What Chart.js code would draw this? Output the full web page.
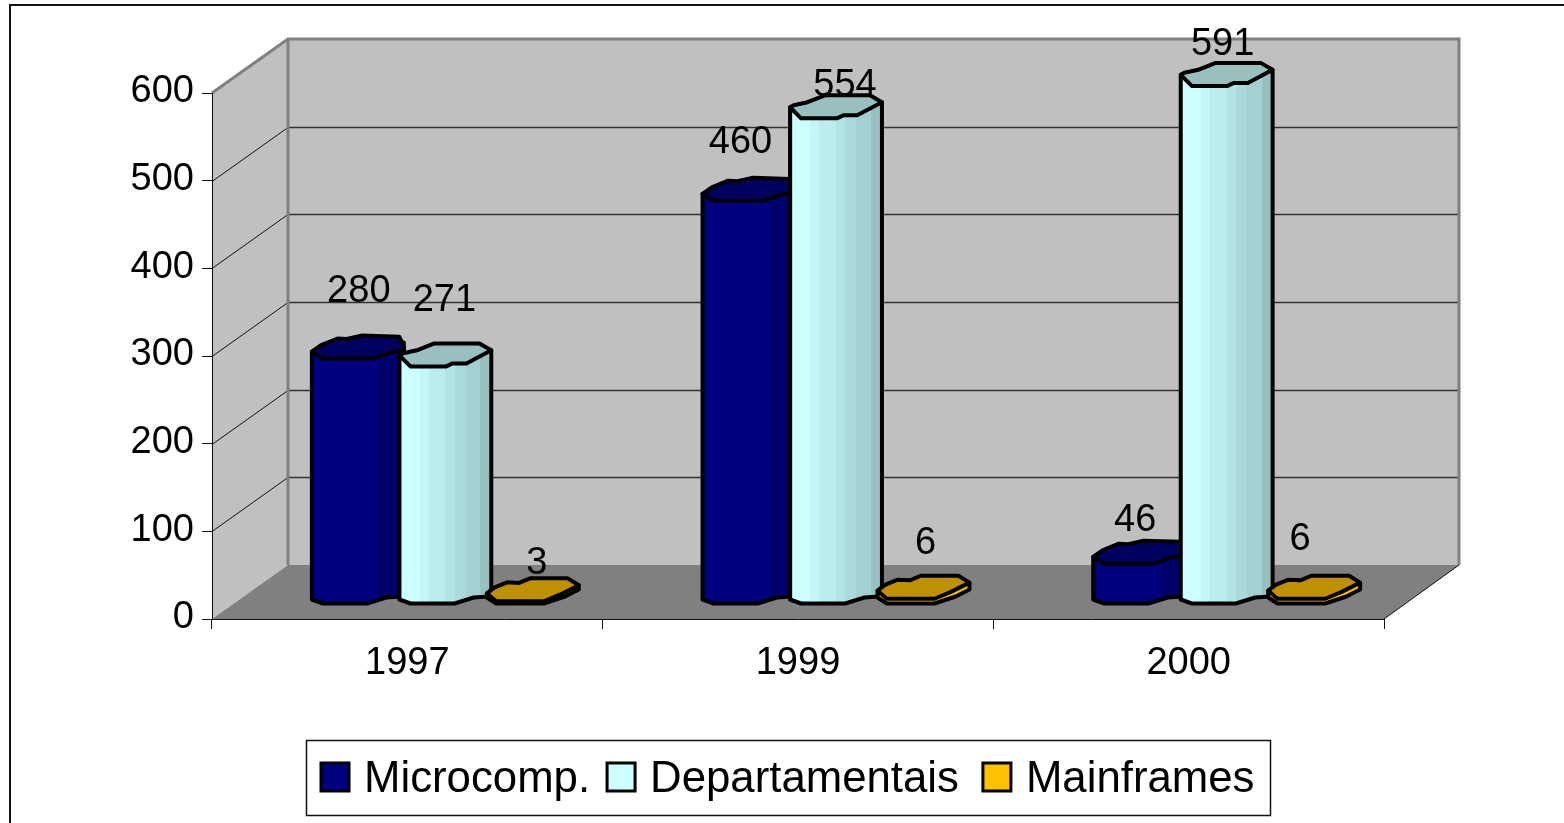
<!DOCTYPE html>
<html>
<head>
<meta charset="utf-8">
<title>Microcomp. / Departamentais / Mainframes</title>
<script src="https://cdn.jsdelivr.net/npm/chart.js@4/dist/chart.umd.min.js"></script>
<style>
  html, body { margin: 0; padding: 0; background: #fff; overflow: hidden; }
  canvas { display: block; }
</style>
</head>
<body>
<canvas id="chart" width="1564" height="823"></canvas>
<script>
const years = ['1997', '1999', '2000'];
const microcomp = [280, 460, 46];
const departamentais = [271, 554, 591];
const mainframes = [3, 6, 6];
const yTicks = [0, 100, 200, 300, 400, 500, 600];

// 3D look of the old spreadsheet chart: wall depth and how far bars sit into it
const DEPTH_X = 76, DEPTH_Y = 54;
const BAR_SHIFT_X = 38, BAR_SHIFT_Y = 15;
const CAP_HEIGHT = 23;
const FONT = '"Liberation Sans", Arial, sans-serif';

// cap: outline as [u across the bar, v down the cap]. foot: [u, pixels above the base]
const seriesLook = [
  {
    cap: '#000060', legend: '#000080',
    capShape: [[0, .7], [.12, 1], [.66, 1], [.85, .74], [1, .65], [1, .45], [.95, .05], [.55, 0], [.38, .15], [.28, .13], [.1, .42]],
    foot: [[0, 4], [.12, 0], [.6, 0], [.81, 6], [.97, 7], [1, 10]],
    stripes: [[.04, '#00007a'], [.72, '#000080'], [1, '#00006c']]
  },
  {
    cap: '#99bfbf', legend: '#ccffff',
    capShape: [[0, .52], [.12, 1], [.51, 1], [.58, .87], [.73, .87], [1, .3], [.87, 0], [.38, 0], [.19, .3], [.04, .43]],
    foot: [[0, 4], [.12, 0], [.6, 0], [.81, 6], [.97, 7], [1, 10]],
    stripes: [[.03, '#b5e5e5'], [.22, '#ccffff'], [.32, '#c4f6f6'], [.5, '#bbeded'], [.6, '#b3e4e4'], [.72, '#aad9d9'], [.88, '#a3d0d0'], [1, '#99c0c0']]
  },
  {
    cap: '#bf9000', legend: '#ffc000',
    capShape: [[0, .65], [.1, 1], [.62, 1], [.8, .7], [1, .3], [.88, 0], [.47, 0], [.35, .2], [.22, .17], [.08, .4]],
    foot: [[0, 6], [.1, 0], [.62, 0], [.85, 7], [1, 14]],
    stripes: [[1, '#ffc000']]
  }
];

// label placement relative to the front of the cap [dx, dy], per series then per year
const labelNudge = [
  [[1, -67], [-8, -58], [-4, -43]],
  [[-1, -66], [9, -33], [-4, -41]],
  [[4, -38], [2, -55], [-14, -59]]
];
const legendGaps = [17, 24, 0];

const roomPlugin = {
  id: 'room',
  beforeDraw(chart) {
    const { ctx, chartArea: a, scales } = chart;
    ctx.save();
    ctx.fillStyle = '#fff';
    ctx.fillRect(0, 0, chart.width, chart.height);

    // page frame, open to the right and below
    ctx.strokeStyle = '#111';
    ctx.lineWidth = 2;
    ctx.beginPath();
    ctx.moveTo(10, chart.height);
    ctx.lineTo(10, 5);
    ctx.lineTo(chart.width, 5);
    ctx.stroke();

    const backL = a.left + DEPTH_X, backR = a.right + DEPTH_X - 1;
    const backT = a.top - DEPTH_Y, backB = a.bottom - DEPTH_Y;

    ctx.fillStyle = '#c0c0c0';
    ctx.fillRect(backL, backT, backR - backL, backB - backT);
    ctx.beginPath();
    ctx.moveTo(a.left, a.top);
    ctx.lineTo(backL, backT);
    ctx.lineTo(backL, backB);
    ctx.lineTo(a.left, a.bottom);
    ctx.closePath();
    ctx.fill();

    ctx.fillStyle = '#808080';
    ctx.beginPath();
    ctx.moveTo(a.left, a.bottom);
    ctx.lineTo(backL, backB);
    ctx.lineTo(backR, backB);
    ctx.lineTo(a.right, a.bottom);
    ctx.closePath();
    ctx.fill();

    // gridlines follow the value scale across both walls
    yTicks.filter(v => v > 0 && v < 600).forEach(v => {
      const y = Math.round(scales.y.getPixelForValue(v)) + .5;
      ctx.strokeStyle = '#111';
      ctx.lineWidth = 1;
      ctx.beginPath();
      ctx.moveTo(a.left, y);
      ctx.lineTo(backL, y - DEPTH_Y);
      ctx.stroke();
      ctx.strokeStyle = '#333';
      ctx.lineWidth = 1.5;
      ctx.beginPath();
      ctx.moveTo(backL, y - DEPTH_Y);
      ctx.lineTo(backR, y - DEPTH_Y);
      ctx.stroke();
    });

    ctx.strokeStyle = '#808080';
    ctx.lineWidth = 3;
    ctx.beginPath();
    ctx.moveTo(a.left, a.top);
    ctx.lineTo(backL, backT);
    ctx.lineTo(backR, backT);
    ctx.lineTo(backR, backB);
    ctx.moveTo(backL, backT);
    ctx.lineTo(backL, backB);
    ctx.stroke();

    ctx.strokeStyle = '#111';
    ctx.lineWidth = 1;
    ctx.beginPath();
    ctx.moveTo(a.right, a.bottom);
    ctx.lineTo(backR, backB);
    ctx.stroke();
    ctx.restore();
  }
};

function drawBar(ctx, bar, look) {
  const w = bar.width;
  const left = bar.x - w / 2 + BAR_SHIFT_X;
  const front = bar.y - BAR_SHIFT_Y;
  const base = bar.base - BAR_SHIFT_Y;
  const capTop = front - CAP_HEIGHT;
  const capY = v => capTop + v * CAP_HEIGHT;

  const grad = ctx.createLinearGradient(left, 0, left + w, 0);
  let from = 0;
  look.stripes.forEach(([to, color]) => {
    grad.addColorStop(from, color);
    grad.addColorStop(to, color);
    from = to;
  });

  ctx.lineWidth = 4;
  ctx.lineJoin = 'round';
  ctx.strokeStyle = '#000';

  // body, with the faceted foot of the cylinder
  ctx.fillStyle = grad;
  ctx.beginPath();
  ctx.moveTo(left, capY(look.capShape[0][1]));
  look.foot.forEach(([u, up]) => ctx.lineTo(left + u * w, base - up));
  ctx.lineTo(left + w, capY(.3));
  ctx.closePath();
  ctx.fill();
  ctx.stroke();

  ctx.fillStyle = look.cap;
  ctx.beginPath();
  look.capShape.forEach(([u, v], i) => {
    if (i === 0) ctx.moveTo(left + u * w, capY(v));
    else ctx.lineTo(left + u * w, capY(v));
  });
  ctx.closePath();
  ctx.fill();
  ctx.stroke();
}

const barsPlugin = {
  id: 'cylinders',
  // the library's flat rectangles are replaced, the geometry still comes from its elements
  beforeDatasetDraw() {
    return false;
  },
  afterDatasetsDraw(chart) {
    const { ctx } = chart;
    ctx.save();
    // left to right so each bar overlaps the previous one
    years.forEach((year, i) => {
      chart.data.datasets.forEach((ds, s) => {
        const bar = chart.getDatasetMeta(s).data[i];
        drawBar(ctx, bar.getProps(['x', 'y', 'base', 'width'], true), seriesLook[s]);
      });
    });
    ctx.fillStyle = '#000';
    ctx.font = '38px ' + FONT;
    ctx.textAlign = 'center';
    ctx.textBaseline = 'middle';
    chart.data.datasets.forEach((ds, s) => {
      chart.getDatasetMeta(s).data.forEach((bar, i) => {
        const [dx, dy] = labelNudge[s][i];
        ctx.fillText(String(ds.data[i]), bar.x + BAR_SHIFT_X + dx, bar.y - BAR_SHIFT_Y + dy);
      });
    });
    ctx.restore();
  }
};

// boxed legend in the bottom of the page
const legendPlugin = {
  id: 'boxLegend',
  afterDraw(chart) {
    const { ctx } = chart;
    ctx.save();
    ctx.strokeStyle = '#111';
    ctx.lineWidth = 1.5;
    ctx.strokeRect(306.5, 740.5, 964, 75);
    ctx.font = '43.75px ' + FONT;
    ctx.textBaseline = 'middle';
    let x = 321;
    chart.data.datasets.forEach((ds, s) => {
      ctx.fillStyle = seriesLook[s].legend;
      ctx.fillRect(x, 763, 28, 28);
      ctx.strokeStyle = '#000';
      ctx.lineWidth = 3;
      ctx.strokeRect(x, 763, 28, 28);
      ctx.fillStyle = '#000';
      ctx.fillText(ds.label, x + 43, 780);
      x += 43 + ctx.measureText(ds.label).width + legendGaps[s];
    });
    ctx.restore();
  }
};

new Chart(document.getElementById('chart'), {
  type: 'bar',
  data: {
    labels: years,
    datasets: [
      { label: 'Microcomp.', data: microcomp, backgroundColor: '#000080' },
      { label: 'Departamentais', data: departamentais, backgroundColor: '#ccffff' },
      { label: 'Mainframes', data: mainframes, backgroundColor: '#ffc000' }
    ]
  },
  plugins: [roomPlugin, barsPlugin, legendPlugin],
  options: {
    responsive: false,
    animation: false,
    layout: { padding: { left: 0, right: 180, top: 93, bottom: 144 } },
    datasets: { bar: { categoryPercentage: .672, barPercentage: 1.05 } },
    plugins: { legend: { display: false }, tooltip: { enabled: false } },
    scales: {
      x: {
        afterFit(scale) { scale.height = 60; },
        grid: { drawOnChartArea: false, color: '#111', tickLength: 10 },
        border: { color: '#111' },
        ticks: { color: '#000', font: { family: FONT, size: 38 }, padding: 12, maxRotation: 0 }
      },
      y: {
        min: 0,
        max: 600,
        afterFit(scale) { scale.width = 212; },
        afterBuildTicks(scale) { scale.ticks = yTicks.map(value => ({ value })); },
        grid: { drawOnChartArea: false, color: '#111', tickLength: 10 },
        border: { color: '#111' },
        ticks: { color: '#000', font: { family: FONT, size: 38 }, padding: 8, labelOffset: -1 }
      }
    }
  }
});
</script>
</body>
</html>
